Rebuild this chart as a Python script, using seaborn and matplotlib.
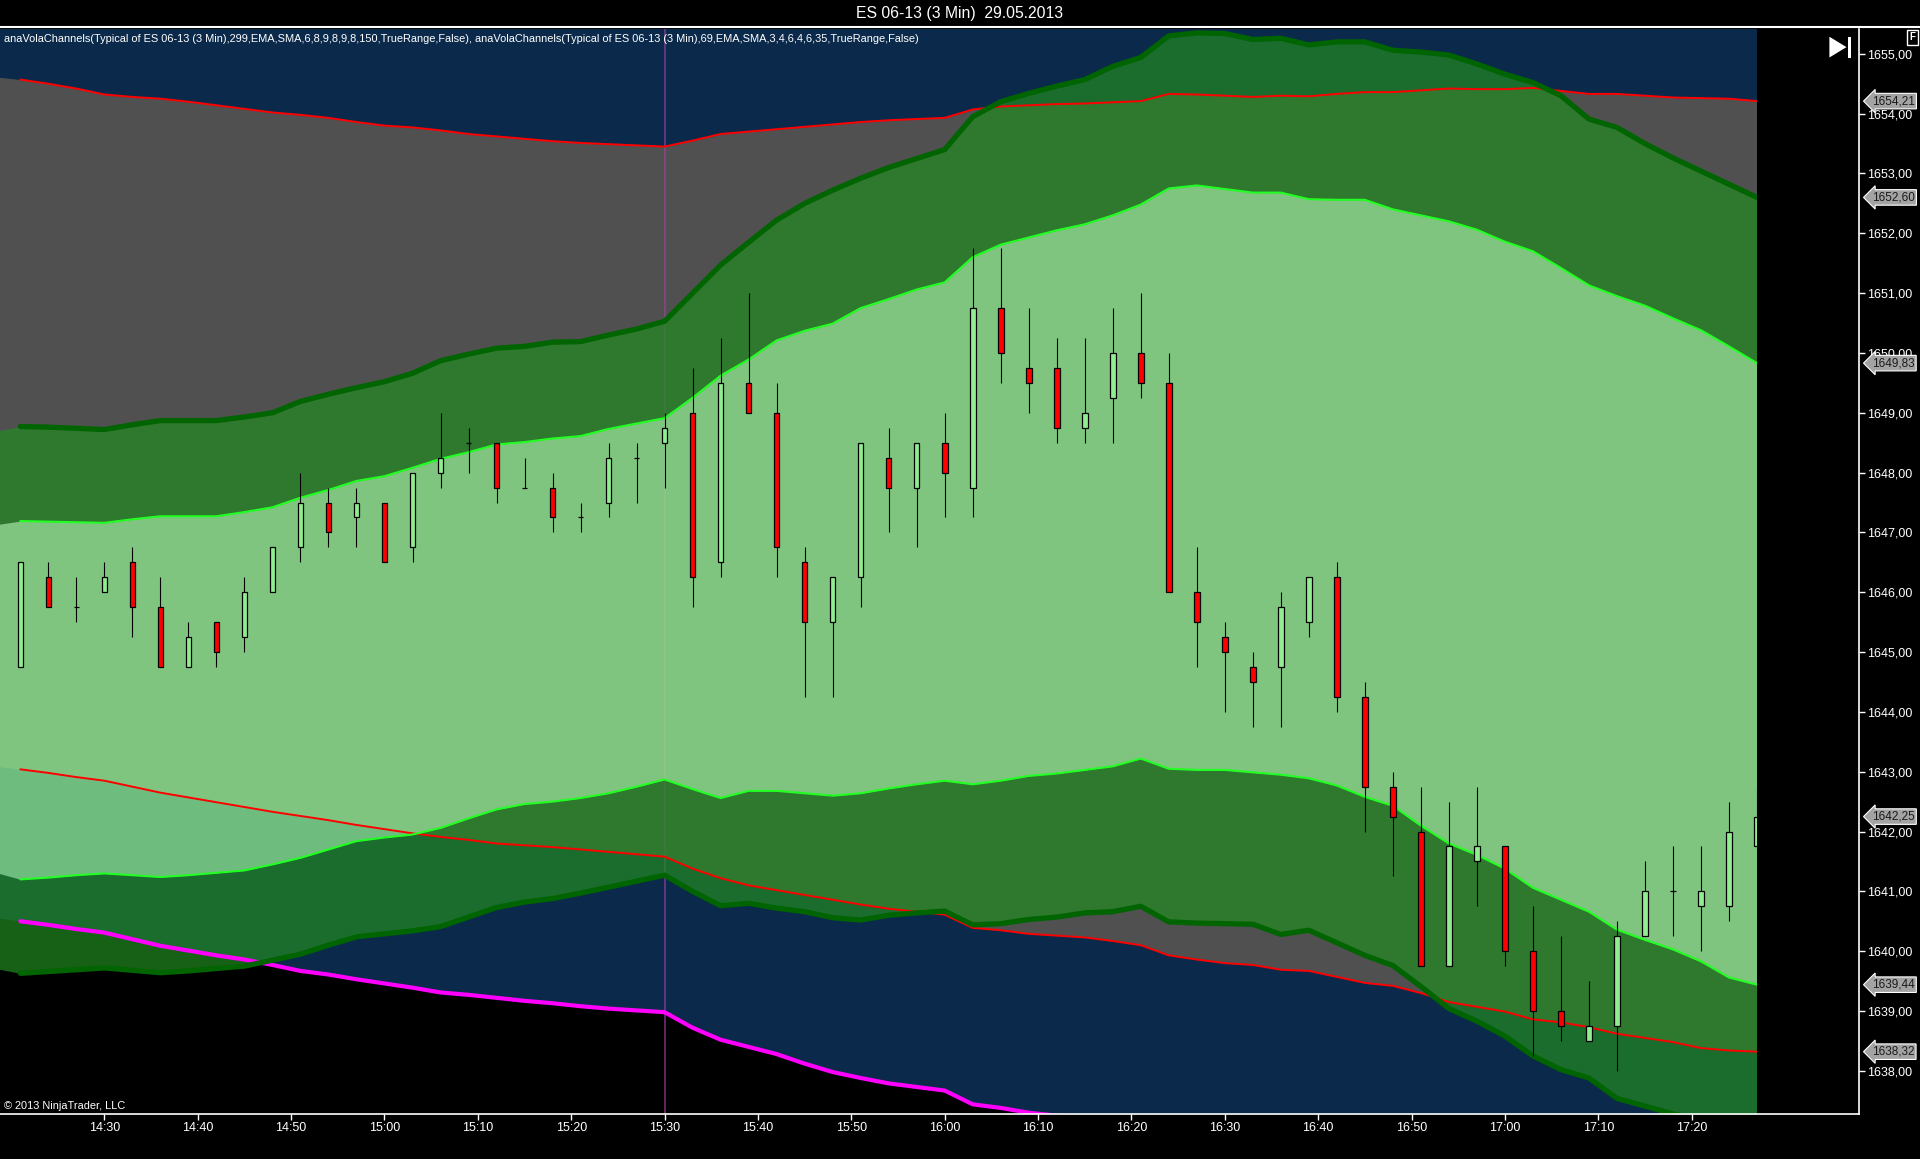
import numpy as np
import pandas as pd
import matplotlib
matplotlib.use("Agg")
import matplotlib.pyplot as plt
import matplotlib.dates as mdates
from matplotlib.lines import Line2D
from matplotlib.patches import Polygon, Rectangle
import seaborn as sns

# ---------------- data ----------------
TITLE = "ES 06-13 (3 Min)  29.05.2013"
INDICATOR_LABEL = ("anaVolaChannels(Typical of ES 06-13 (3 Min),299,EMA,SMA,6,8,9,8,9,8,150,TrueRange,False), "
                   "anaVolaChannels(Typical of ES 06-13 (3 Min),69,EMA,SMA,3,4,6,4,6,35,TrueRange,False)")
COPYRIGHT = "\u00a9 2013 NinjaTrader, LLC"

# 3-minute bars; the first one (14:18) is just off the left edge (indicators only)
bar_times = pd.date_range("2013-05-29 14:18", periods=64, freq="3min")

# slow channel (299) - red lines, magenta outer lower line
slow_upper = [1654.62, 1654.57, 1654.50, 1654.42, 1654.32, 1654.28, 1654.25, 1654.20, 1654.14, 1654.08,
              1654.02, 1653.98, 1653.93, 1653.86, 1653.80, 1653.77, 1653.72, 1653.66, 1653.62, 1653.58,
              1653.54, 1653.51, 1653.49, 1653.47, 1653.45, 1653.55, 1653.66, 1653.70, 1653.74, 1653.78,
              1653.82, 1653.86, 1653.89, 1653.91, 1653.93, 1654.07, 1654.12, 1654.14, 1654.16, 1654.17,
              1654.19, 1654.21, 1654.33, 1654.32, 1654.30, 1654.28, 1654.30, 1654.29, 1654.33, 1654.36,
              1654.36, 1654.39, 1654.42, 1654.41, 1654.41, 1654.43, 1654.38, 1654.33, 1654.33, 1654.30,
              1654.27, 1654.26, 1654.25, 1654.21]
slow_lower = [1643.10, 1643.04, 1642.98, 1642.91, 1642.85, 1642.75, 1642.65, 1642.57, 1642.49, 1642.41,
              1642.33, 1642.26, 1642.19, 1642.11, 1642.04, 1641.97, 1641.91, 1641.86, 1641.80, 1641.77,
              1641.74, 1641.70, 1641.66, 1641.62, 1641.58, 1641.38, 1641.22, 1641.10, 1641.02, 1640.94,
              1640.86, 1640.78, 1640.71, 1640.66, 1640.61, 1640.39, 1640.35, 1640.29, 1640.26, 1640.23,
              1640.17, 1640.10, 1639.93, 1639.86, 1639.80, 1639.77, 1639.69, 1639.67, 1639.57, 1639.47,
              1639.42, 1639.30, 1639.15, 1639.07, 1638.99, 1638.86, 1638.81, 1638.73, 1638.62, 1638.55,
              1638.48, 1638.38, 1638.34, 1638.32]
slow_outer_lower = [1640.56, 1640.50, 1640.44, 1640.37, 1640.31, 1640.20, 1640.09, 1640.01, 1639.93, 1639.86,
                    1639.77, 1639.67, 1639.61, 1639.53, 1639.46, 1639.39, 1639.31, 1639.27, 1639.22, 1639.17,
                    1639.13, 1639.08, 1639.04, 1639.01, 1638.98, 1638.72, 1638.52, 1638.40, 1638.28, 1638.12,
                    1637.98, 1637.88, 1637.79, 1637.73, 1637.67, 1637.44, 1637.38, 1637.30, 1637.25, 1637.21,
                    1637.17, 1637.13, 1637.05, 1637.00, 1636.96, 1636.92, 1636.88, 1636.83, 1636.78, 1636.73,
                    1636.68, 1636.62, 1636.56, 1636.50, 1636.45, 1636.40, 1636.35, 1636.30, 1636.26, 1636.22,
                    1636.18, 1636.14, 1636.10, 1636.07]

# fast channel (69) - dark green outer lines, bright green inner lines
fast_outer_upper = [1648.68, 1648.77, 1648.76, 1648.74, 1648.72, 1648.80, 1648.87, 1648.87, 1648.87, 1648.93,
                    1649.00, 1649.19, 1649.31, 1649.42, 1649.52, 1649.66, 1649.87, 1649.98, 1650.08, 1650.11,
                    1650.18, 1650.19, 1650.30, 1650.40, 1650.53, 1651.00, 1651.47, 1651.85, 1652.22, 1652.50,
                    1652.72, 1652.92, 1653.10, 1653.25, 1653.40, 1653.95, 1654.20, 1654.34, 1654.46, 1654.57,
                    1654.79, 1654.94, 1655.30, 1655.35, 1655.34, 1655.24, 1655.26, 1655.15, 1655.20, 1655.20,
                    1655.06, 1655.03, 1654.98, 1654.83, 1654.66, 1654.52, 1654.30, 1653.91, 1653.77, 1653.50,
                    1653.26, 1653.04, 1652.82, 1652.60]
fast_inner_upper = [1647.12, 1647.19, 1647.18, 1647.17, 1647.16, 1647.22, 1647.27, 1647.27, 1647.27, 1647.34,
                    1647.42, 1647.58, 1647.71, 1647.86, 1647.94, 1648.08, 1648.23, 1648.34, 1648.47, 1648.51,
                    1648.57, 1648.61, 1648.73, 1648.82, 1648.91, 1649.25, 1649.62, 1649.89, 1650.21, 1650.37,
                    1650.49, 1650.75, 1650.90, 1651.06, 1651.18, 1651.60, 1651.81, 1651.93, 1652.05, 1652.15,
                    1652.30, 1652.48, 1652.75, 1652.80, 1652.74, 1652.68, 1652.68, 1652.57, 1652.56, 1652.56,
                    1652.40, 1652.30, 1652.20, 1652.06, 1651.86, 1651.70, 1651.42, 1651.13, 1650.95, 1650.79,
                    1650.58, 1650.38, 1650.11, 1649.83]
fast_inner_lower = [1641.33, 1641.20, 1641.23, 1641.27, 1641.30, 1641.27, 1641.24, 1641.27, 1641.31, 1641.35,
                    1641.45, 1641.56, 1641.70, 1641.84, 1641.90, 1641.95, 1642.06, 1642.22, 1642.37, 1642.46,
                    1642.50, 1642.56, 1642.64, 1642.75, 1642.87, 1642.71, 1642.56, 1642.68, 1642.68, 1642.64,
                    1642.60, 1642.64, 1642.72, 1642.79, 1642.85, 1642.79, 1642.85, 1642.93, 1642.97, 1643.03,
                    1643.09, 1643.22, 1643.05, 1643.03, 1643.03, 1642.99, 1642.95, 1642.89, 1642.77, 1642.58,
                    1642.43, 1642.10, 1641.80, 1641.61, 1641.38, 1641.06, 1640.86, 1640.66, 1640.36, 1640.19,
                    1640.03, 1639.83, 1639.56, 1639.44]
fast_outer_lower = [1639.72, 1639.63, 1639.66, 1639.69, 1639.72, 1639.68, 1639.64, 1639.67, 1639.71, 1639.75,
                    1639.85, 1639.95, 1640.10, 1640.24, 1640.29, 1640.34, 1640.41, 1640.57, 1640.73, 1640.82,
                    1640.88, 1640.97, 1641.07, 1641.17, 1641.27, 1641.00, 1640.76, 1640.80, 1640.72, 1640.66,
                    1640.56, 1640.52, 1640.60, 1640.64, 1640.67, 1640.44, 1640.46, 1640.53, 1640.57, 1640.64,
                    1640.66, 1640.75, 1640.49, 1640.47, 1640.46, 1640.45, 1640.28, 1640.35, 1640.14, 1639.93,
                    1639.76, 1639.41, 1639.04, 1638.83, 1638.58, 1638.25, 1638.02, 1637.88, 1637.54, 1637.41,
                    1637.28, 1637.18, 1637.08, 1636.98]

# OHLC of the 63 visible bars (14:21 ... 17:27)
bar_open = [1644.75, 1646.25, 1645.75, 1646.00, 1646.50, 1645.75, 1644.75, 1645.50, 1645.25, 1646.00,
            1646.75, 1647.50, 1647.25, 1647.50, 1646.75, 1648.00, 1648.50, 1648.50, 1647.75, 1647.75,
            1647.25, 1647.50, 1648.25, 1648.50, 1649.00, 1646.50, 1649.50, 1649.00, 1646.50, 1645.50,
            1646.25, 1648.25, 1647.75, 1648.50, 1647.75, 1650.75, 1649.75, 1649.75, 1648.75, 1649.25,
            1650.00, 1649.50, 1646.00, 1645.25, 1644.75, 1644.75, 1645.50, 1646.25, 1644.25, 1642.75,
            1642.00, 1639.75, 1641.50, 1641.75, 1640.00, 1639.00, 1638.50, 1638.75, 1640.25, 1641.00,
            1640.75, 1640.75, 1641.75]
bar_high = [1646.50, 1646.50, 1646.25, 1646.50, 1646.75, 1646.25, 1645.50, 1645.50, 1646.25, 1646.75,
            1648.00, 1647.75, 1647.75, 1647.50, 1648.00, 1649.00, 1648.75, 1648.50, 1648.25, 1648.00,
            1647.50, 1648.50, 1648.50, 1649.00, 1649.75, 1650.25, 1651.00, 1649.50, 1646.75, 1646.25,
            1648.50, 1648.75, 1648.50, 1649.00, 1651.75, 1651.75, 1650.75, 1650.25, 1650.25, 1650.75,
            1651.00, 1650.00, 1646.75, 1645.50, 1645.00, 1646.00, 1646.25, 1646.50, 1644.50, 1643.00,
            1642.75, 1642.50, 1642.75, 1641.75, 1640.75, 1640.25, 1639.50, 1640.50, 1641.50, 1641.75,
            1641.75, 1642.50, 1642.75]
bar_low = [1644.75, 1645.75, 1645.50, 1646.00, 1645.25, 1644.75, 1644.75, 1644.75, 1645.00, 1646.00,
           1646.50, 1646.75, 1646.75, 1646.50, 1646.50, 1647.75, 1648.00, 1647.50, 1647.75, 1647.00,
           1647.00, 1647.25, 1647.50, 1647.75, 1645.75, 1646.25, 1649.00, 1646.25, 1644.25, 1644.25,
           1645.75, 1647.00, 1646.75, 1647.25, 1647.25, 1649.50, 1649.00, 1648.50, 1648.50, 1648.50,
           1649.25, 1646.00, 1644.75, 1644.00, 1643.75, 1643.75, 1645.25, 1644.00, 1642.00, 1641.25,
           1639.75, 1639.75, 1640.75, 1639.75, 1638.25, 1638.50, 1638.50, 1638.00, 1640.25, 1640.25,
           1640.00, 1640.50, 1641.75]
bar_close = [1646.50, 1645.75, 1645.75, 1646.25, 1645.75, 1644.75, 1645.25, 1645.00, 1646.00, 1646.75,
             1647.50, 1647.00, 1647.50, 1646.50, 1648.00, 1648.25, 1648.50, 1647.75, 1647.75, 1647.25,
             1647.25, 1648.25, 1648.25, 1648.75, 1646.25, 1649.50, 1649.00, 1646.75, 1645.50, 1646.25,
             1648.50, 1647.75, 1648.50, 1648.00, 1650.75, 1650.00, 1649.50, 1648.75, 1649.00, 1650.00,
             1649.50, 1646.00, 1645.50, 1645.00, 1644.50, 1645.75, 1646.25, 1644.25, 1642.75, 1642.25,
             1639.75, 1641.75, 1641.75, 1640.00, 1639.00, 1638.75, 1638.75, 1640.25, 1641.00, 1641.00,
             1641.00, 1642.00, 1642.25]

marker_time = "2013-05-29 15:30"
time_tick_labels = ["14:30", "14:40", "14:50", "15:00", "15:10", "15:20", "15:30", "15:40", "15:50",
                    "16:00", "16:10", "16:20", "16:30", "16:40", "16:50", "17:00", "17:10", "17:20"]
price_ticks = [1638, 1639, 1640, 1641, 1642, 1643, 1644, 1645, 1646, 1647, 1648, 1649, 1650, 1651,
               1652, 1653, 1654, 1655]

# ---------------- style ----------------
sns.set_theme(style="dark")
plt.rcParams["font.family"] = ["Liberation Sans", "DejaVu Sans"]
NARROW = ["Liberation Sans Narrow", "Liberation Sans", "DejaVu Sans"]

NAVY = "#0b2a4b"
GRAY = "#505050"
FOREST = "#228b22"
LIGHTGREEN = "#90ee90"
DKGREEN_LINE = "#006400"
LIME_LINE = "#22ff22"
RED_LINE = "#ff0000"
MAGENTA_LINE = "#ff00ff"

W, H = 1920, 1159
fig = plt.figure(figsize=(W / 100, H / 100), dpi=100, facecolor="black")
# layout from a 1568 x 947 reference frame
FW, FH = 1568.0, 947.0
ax = fig.add_axes([0.0, 1 - 910 / FH, 1518 / FW, (910 - 24) / FH])
ax.set_facecolor("black")

x = mdates.date2num(bar_times.to_pydatetime())
xc = x[1:]
one_min = 1.0 / 1440.0

arr = {k: np.asarray(v, float) for k, v in dict(
    su=slow_upper, sl=slow_lower, so=slow_outer_lower, fou=fast_outer_upper,
    fiu=fast_inner_upper, fil=fast_inner_lower, fol=fast_outer_lower).items()}
o = np.asarray(bar_open); h = np.asarray(bar_high); l = np.asarray(bar_low); c = np.asarray(bar_close)

# fills
ax.fill_between(x, arr["so"], 1660, color=NAVY, lw=0, zorder=1)
ax.fill_between(x, arr["sl"], arr["su"], color=GRAY, lw=0, zorder=2)
# vertical marker (under the translucent green fills)
ax.axvline(mdates.date2num(pd.Timestamp(marker_time).to_pydatetime()), color="#a040a0",
           lw=1.2, alpha=0.7, zorder=2.5)
ax.fill_between(x, arr["fiu"], arr["fou"], color=FOREST, alpha=0.7, lw=0, zorder=3)
ax.fill_between(x, arr["fol"], arr["fil"], color=FOREST, alpha=0.7, lw=0, zorder=3)
ax.fill_between(x, arr["fil"], arr["fiu"], color=LIGHTGREEN, alpha=0.75, lw=0, zorder=3)

# indicator lines
line_specs = [("su", RED_LINE, 1.4), ("sl", RED_LINE, 1.4), ("so", MAGENTA_LINE, 3.0),
              ("fou", DKGREEN_LINE, 3.8), ("fol", DKGREEN_LINE, 3.8),
              ("fiu", LIME_LINE, 1.5), ("fil", LIME_LINE, 1.5)]
for key, col, lw in line_specs:
    df = pd.DataFrame({"t": xc, "v": arr[key][1:]})
    sns.lineplot(data=df, x="t", y="v", ax=ax, color=col, linewidth=lw, zorder=4,
                 estimator=None, sort=False)

# candles
body_w = 0.6 * one_min
up = c >= o
bottom = np.minimum(o, c)
height = np.abs(c - o)
ax.vlines(xc, l, h, color="black", lw=0.8, zorder=5)
ax.bar(xc[up], height[up], bottom=bottom[up], width=body_w, color=LIGHTGREEN,
       edgecolor="black", linewidth=0.9, zorder=6)
ax.bar(xc[~up], height[~up], bottom=bottom[~up], width=body_w, color="#ff0000",
       edgecolor="black", linewidth=0.9, zorder=6)

# axes limits
first_bar = x[1]
x_left = first_bar - 2.18 * one_min
x_right = first_bar + 196.9 * one_min
ax.axvspan(xc[-1], x_right, color="black", lw=0, zorder=7)
ax.set_xlim(x_left, x_right)
ax.set_ylim(1637.283, 1655.409)

ax.set_xlabel("")
ax.set_ylabel("")
ax.grid(False)
ax.yaxis.tick_right()
ax.set_yticks(price_ticks)
ax.set_yticklabels([f"{v:.2f}".replace(".", ",") for v in price_ticks])
tick_pos = [mdates.date2num(pd.Timestamp("2013-05-29 " + t).to_pydatetime()) for t in time_tick_labels]
ax.set_xticks(tick_pos)
ax.set_xticklabels(time_tick_labels)
ax.tick_params(axis="both", colors="white", labelcolor="white", labelsize=9,
               length=4, width=1, direction="out", pad=2)
ax.tick_params(axis="x", bottom=True)
ax.tick_params(axis="y", right=True, left=False)
for s in ["top", "left"]:
    ax.spines[s].set_visible(False)
for s in ["right", "bottom"]:
    ax.spines[s].set_visible(True)
    ax.spines[s].set_color("white")
    ax.spines[s].set_linewidth(1.2)
    ax.spines[s].set_zorder(10)

# price markers on the right scale
marker_vals = [arr["su"][-1], arr["fou"][-1], arr["fiu"][-1], c[-1], arr["fil"][-1], arr["sl"][-1]]
for v in marker_vals:
    ax.annotate(f"{v:.2f}".replace(".", ","), xy=(1.0, v), xycoords=("axes fraction", "data"),
                xytext=(13, 0), textcoords="offset pixels", ha="left", va="center",
                fontsize=8.5, color="#1a1a1a", annotation_clip=False, zorder=20,
                bbox=dict(boxstyle="larrow,pad=0.15", fc="#a3a3a3", ec="white", lw=0.8))

# header / texts
fig.add_artist(Line2D([0, 1], [1 - 22 / FH] * 2, transform=fig.transFigure, color="white", lw=1.5))
t_title = fig.text(0.5, 1 - 11 / FH, TITLE, ha="center", va="center", color="white", fontsize=11)
t_leg = fig.text(3 / FW, 1 - 31.5 / FH, INDICATOR_LABEL, ha="left", va="center", color="white",
                 fontsize=8, family=NARROW, zorder=30)
t_copy = fig.text(3 / FW, 1 - 904 / FH, COPYRIGHT, ha="left", va="center", color="white",
                  fontsize=8, family=NARROW, zorder=30)

# play-to-end icon and "F" box
def fpt(px, py):
    return (px / FW, 1 - py / FH)
fig.add_artist(Polygon([fpt(1494, 30), fpt(1494, 47), fpt(1508, 38.5)], closed=True,
                       transform=fig.transFigure, fc="white", ec="none"))
fig.add_artist(Rectangle(fpt(1509, 47), 3 / FW, 17 / FH, transform=fig.transFigure,
                         fc="white", ec="none"))
fig.text(1562 / FW, 1 - 30.5 / FH, "F", ha="center", va="center", color="white", fontsize=7,
         fontweight="bold", bbox=dict(boxstyle="square,pad=0.25", fc="black", ec="white", lw=1))

# fit text widths to reference
fig.canvas.draw()
r = fig.canvas.get_renderer()
for t, target in [(t_leg, 918), (t_copy, 122), (t_title, 207)]:
    w = t.get_window_extent(r).width
    t.set_fontsize(t.get_fontsize() * target / w)

fig.savefig("out.png", dpi=100, facecolor="black")
